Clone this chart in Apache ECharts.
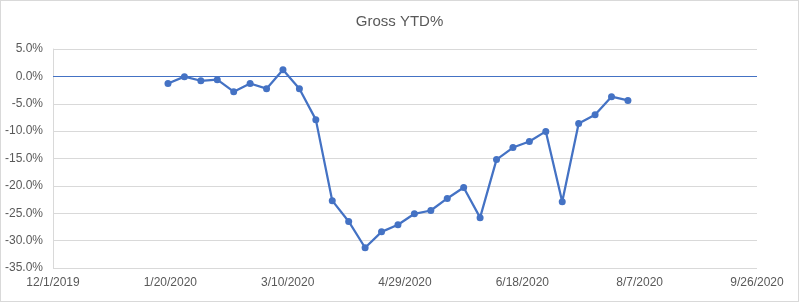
<!DOCTYPE html>
<html><head><meta charset="utf-8">
<script src="https://cdn.jsdelivr.net/npm/echarts@6/dist/echarts.min.js"></script>
<style>
html,body{margin:0;padding:0;background:#fff;}
#c{width:799px;height:302px;box-sizing:border-box;border:1px solid #d9d9d9;}
</style></head>
<body><div id="c"></div>
<script>
const startDate = '2019-12-01';
const dates = ['2020-01-19','2020-01-26','2020-02-02','2020-02-09','2020-02-16','2020-02-23','2020-03-01','2020-03-08','2020-03-15','2020-03-22',
 '2020-03-29','2020-04-05','2020-04-12','2020-04-19','2020-04-26','2020-05-03','2020-05-10','2020-05-17','2020-05-24','2020-05-31',
 '2020-06-07','2020-06-14','2020-06-21','2020-06-28','2020-07-05','2020-07-12','2020-07-19','2020-07-26','2020-08-02'];
const grossYTD = [-1.3,-0.05,-0.8,-0.6,-2.8,-1.3,-2.25,1.2,-2.25,-7.9,
 -22.7,-26.5,-31.3,-28.4,-27.1,-25.1,-24.5,-22.3,-20.3,-25.8,
 -15.2,-13.0,-11.9,-10.05,-22.9,-8.6,-7.0,-3.7,-4.4];
const xTickStepDays = 50;
const xRangeDays = 300;
const yMin = -35, yMax = 5, yStep = 5;

const DAY = 86400000;
const t0 = Date.parse(startDate + 'T00:00:00Z');
const toDays = d => Math.round((Date.parse(d + 'T00:00:00Z') - t0) / DAY);
const fmtDate = v => { const d = new Date(t0 + v * DAY); return (d.getUTCMonth()+1) + '/' + d.getUTCDate() + '/' + d.getUTCFullYear(); };

const chart = echarts.init(document.getElementById('c'));
const txt = '#595959';
chart.setOption({
  animation:false,
  title:{text:'Gross YTD%',left:'center',top:8,textStyle:{color:txt,fontSize:15,fontWeight:'normal',fontFamily:'Liberation Sans'}},
  grid:{left:52,right:41,top:48,bottom:33},
  xAxis:{type:'value',min:0,max:xRangeDays,interval:xTickStepDays,
    axisLine:{show:false},axisTick:{show:false},splitLine:{show:false},
    axisLabel:{color:txt,fontSize:12,fontFamily:'Liberation Sans',margin:9,formatter:fmtDate}},
  yAxis:{type:'value',min:yMin,max:yMax,interval:yStep,
    axisLine:{show:true,lineStyle:{color:'#d9d9d9'}},axisTick:{show:false},
    splitLine:{lineStyle:{color:'#d9d9d9',width:1}},
    axisLabel:{color:txt,fontSize:12,fontFamily:'Liberation Sans',margin:10,formatter:v=>v.toFixed(1)+'%'}},
  series:[{type:'line',data:dates.map((d,i)=>[toDays(d),grossYTD[i]]),
    symbol:'circle',symbolSize:7,
    lineStyle:{color:'#4472C4',width:2.25},itemStyle:{color:'#4472C4'},
    markLine:{silent:true,symbol:'none',label:{show:false},lineStyle:{color:'#4472C4',width:1,type:'solid'},data:[{yAxis:0}]},
    z:3}]
});
</script></body></html>
